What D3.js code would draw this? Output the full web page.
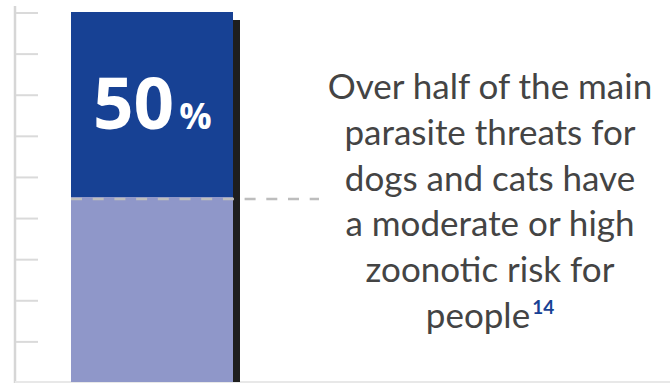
<!DOCTYPE html>
<html>
<head>
<meta charset="utf-8">
<script src="https://cdn.jsdelivr.net/npm/d3@7"></script>
<style>
  body { margin: 0; background: #fff; }
  svg { display: block; }
</style>
</head>
<body>
<svg id="chart"></svg>
<script>
// Data
const segments = ["rest", "zoonotic"]; // bottom (light) then top (dark)
const segmentValues = [50, 50];
const highlightValue = 50;
const tickSteps = [1, 2, 3, 4, 5, 6, 7, 8, 9];
const captionLines = [
  "Over half of the main",
  "parasite threats for",
  "dogs and cats have",
  "a moderate or high",
  "zoonotic risk for",
  "people"
];
const footnote = "14";

const width = 670;
const height = 383;

const svg = d3.select("#chart")
  .attr("width", width)
  .attr("height", height);

// Scales
const y = d3.scaleLinear().domain([0, 100]).range([382, 12]);
const yTick = d3.scaleLinear().domain([0, 9]).range([383, 13]);
const x = d3.scaleBand().domain(["bar"]).range([71, 233]).padding(0);

// Left decorative axis
svg.append("line")
  .attr("x1", 15).attr("x2", 15)
  .attr("y1", 6).attr("y2", 383)
  .attr("stroke", "#d6d6d6")
  .attr("stroke-width", 2.5);

svg.selectAll(".tick")
  .data(tickSteps)
  .join("line")
  .attr("class", "tick")
  .attr("x1", 16).attr("x2", 38)
  .attr("y1", d => yTick(d)).attr("y2", d => yTick(d))
  .attr("stroke", "#dadada")
  .attr("stroke-width", 2);

// Baseline
svg.append("line")
  .attr("x1", 15).attr("x2", width)
  .attr("y1", 382).attr("y2", 382)
  .attr("stroke", "#e8e8e8")
  .attr("stroke-width", 2);

// Shadow behind bar
svg.append("rect")
  .attr("x", x("bar") + x.bandwidth())
  .attr("y", y(100) + 8)
  .attr("width", 7)
  .attr("height", y(0) - y(100) - 8)
  .attr("fill", "#1e1e1e");

// Stacked segments
const stacked = [];
let acc = 0;
segments.forEach((s, i) => {
  stacked.push({ key: s, y0: acc, y1: acc + segmentValues[i] });
  acc += segmentValues[i];
});
const colors = { rest: "#8f97c9", zoonotic: "#174194" };

svg.selectAll(".seg")
  .data(stacked)
  .join("rect")
  .attr("class", "seg")
  .attr("x", x("bar"))
  .attr("width", x.bandwidth())
  .attr("y", d => y(d.y1))
  .attr("height", d => y(d.y0) - y(d.y1))
  .attr("fill", d => colors[d.key]);

// Dashed divider line
svg.append("line")
  .attr("x1", x("bar")).attr("x2", 319)
  .attr("y1", y(highlightValue) + 2).attr("y2", y(highlightValue) + 2)
  .attr("stroke", "#bdbdbd")
  .attr("stroke-width", 2.5)
  .attr("stroke-dasharray", "11 10.7");

// Big percentage label
const pct = svg.append("text")
  .attr("x", 93)
  .attr("y", 129)
  .attr("fill", "#fff")
  .attr("font-family", "'Open Sans', sans-serif")
  .attr("font-weight", "bold");
pct.append("tspan")
  .attr("font-size", 71)
  .text(highlightValue);
pct.append("tspan")
  .attr("font-size", 36)
  .attr("dx", 5)
  .text("%");

// Caption
const caption = svg.append("text")
  .attr("text-anchor", "middle")
  .attr("fill", "#444")
  .attr("font-family", "Lato, sans-serif")
  .attr("font-size", 35);

captionLines.forEach((line, i) => {
  const t = caption.append("tspan")
    .attr("x", 490)
    .attr("y", 99 + i * 45.8)
    .text(line);
  if (i === captionLines.length - 1) {
    t.append("tspan")
      .attr("fill", "#174194")
      .attr("font-weight", "bold")
      .attr("font-size", 19)
      .attr("dx", 2)
      .attr("dy", -14)
      .text(footnote);
  }
});
</script>
</body>
</html>
